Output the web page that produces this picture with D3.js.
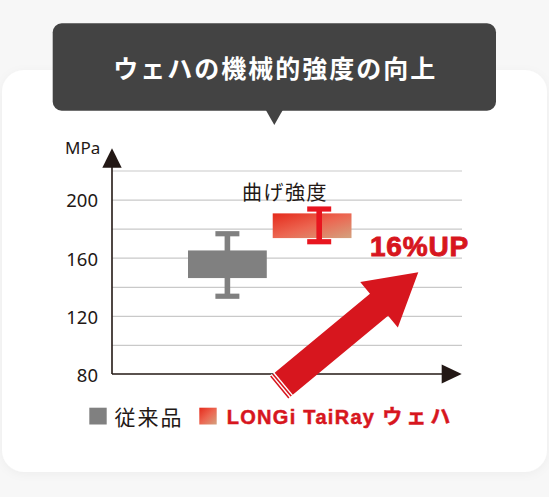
<!DOCTYPE html>
<html>
<head>
<meta charset="utf-8">
<script src="https://cdn.jsdelivr.net/npm/d3@7"></script>
<style>
  html, body { margin: 0; padding: 0; background: #f7f7f7; }
  svg { display: block; }
</style>
</head>
<body>
<div id="chart"></div>
<script>
// Data (MPa).
var categories = ['従来品', 'LONGi TaiRay ウェハ'];
var boxLow = [146, 173.5];
var boxHigh = [165, 190.5];
var whiskerLow = [133.5, 171];
var whiskerHigh = [176.5, 193.5];
var yTickLabels = [80, 120, 160, 200];
var gridValues = [100, 120, 140, 160, 180, 200, 220];
var title = 'ウェハの機械的強度の向上';
var seriesLabel = '曲げ強度';
var gainLabel = '16%UP';

var width = 549;
var height = 497;
var plot_left = 112;
var plot_right = 462;
var plot_bottom = 374;
var plot_top = 170.5;

var red = '#d7161e';
var gray = '#808080';
var ink = '#231815';

var svg = d3.select('#chart')
            .append('svg')
            .attr('width', width)
            .attr('height', height);

var defs = svg.append('defs');

var grad = defs.append('linearGradient')
               .attr('id', 'redGrad')
               .attr('x1', 0).attr('y1', 0)
               .attr('x2', 1).attr('y2', 1);
grad.append('stop').attr('offset', '0%').attr('stop-color', '#e52a1b');
grad.append('stop').attr('offset', '50%').attr('stop-color', '#ec6651');
grad.append('stop').attr('offset', '100%').attr('stop-color', '#d4a27f');

var shadow = defs.append('filter')
                 .attr('id', 'shadow')
                 .attr('x', '-10%').attr('y', '-10%')
                 .attr('width', '120%').attr('height', '120%');
shadow.append('feDropShadow')
      .attr('dx', 0).attr('dy', 2)
      .attr('stdDeviation', 5)
      .attr('flood-color', '#000')
      .attr('flood-opacity', 0.04);

// White card behind the chart.
svg.append('rect')
   .attr('x', 2).attr('y', 70)
   .attr('width', 545).attr('height', 402)
   .attr('rx', 22)
   .attr('fill', '#fff')
   .attr('filter', 'url(#shadow)');

// Title bubble.
svg.append('rect')
   .attr('x', 52.7).attr('y', 23.3)
   .attr('width', 443.3).attr('height', 87.4)
   .attr('rx', 9)
   .attr('fill', '#434343');
svg.append('path')
   .attr('d', 'M265.8,110 L282.8,110 L274.3,125 Z')
   .attr('fill', '#434343');
svg.append('text')
   .text(title)
   .attr('x', 274.3 + 1)
   .attr('y', 67)
   .attr('text-anchor', 'middle')
   .attr('dominant-baseline', 'central')
   .style('font-family', '"Noto Sans CJK JP", sans-serif')
   .style('font-weight', 'bold')
   .style('font-size', '25px')
   .style('letter-spacing', '2px')
   .style('fill', '#fff');

// Scales.
var y_scale = d3.scaleLinear()
                .domain([80, 220])
                .range([plot_bottom, plot_top]);

var x_scale = d3.scaleBand()
                .domain(d3.range(categories.length))
                .range([188, 351.5])
                .paddingInner(0.07)
                .paddingOuter(0);

// Grid lines.
svg.append('g')
   .attr('class', 'grid')
   .attr('transform', 'translate(' + plot_left + ', 0)')
   .call(d3.axisLeft(y_scale)
           .tickValues(gridValues)
           .tickSize(-(plot_right - plot_left))
           .tickFormat(''))
   .call(function(g){
     g.select('.domain').remove();
     g.selectAll('line').attr('stroke', '#c9c9c9').attr('stroke-width', 1.2);
   });

// Y tick labels.
svg.append('g')
   .attr('class', 'y-axis')
   .attr('transform', 'translate(' + plot_left + ', 0)')
   .call(d3.axisLeft(y_scale)
           .tickValues(yTickLabels)
           .tickSize(0)
           .tickPadding(14))
   .call(function(g){
     g.select('.domain').remove();
     g.selectAll('text')
      .attr('dy', '0.4em')
      .style('font-family', '"Noto Sans", sans-serif')
      .style('font-size', '18.5px')
      .style('fill', ink);
   });

// Axis lines with arrow heads.
svg.append('line')
   .attr('x1', plot_left).attr('x2', plot_left)
   .attr('y1', y_scale(80)).attr('y2', 160)
   .attr('stroke', ink).attr('stroke-width', 1.6);
svg.append('path')
   .attr('d', 'M' + plot_left + ',148.3 L' + (plot_left - 9.7) + ',167.7 L' + (plot_left + 9.7) + ',167.7 Z')
   .attr('fill', ink);
svg.append('line')
   .attr('x1', plot_left).attr('x2', 450)
   .attr('y1', y_scale(80)).attr('y2', y_scale(80))
   .attr('stroke', ink).attr('stroke-width', 1.6);
svg.append('path')
   .attr('d', 'M461.7,' + y_scale(80) + ' L441.7,' + (y_scale(80) - 9.5) + ' L441.7,' + (y_scale(80) + 9.5) + ' Z')
   .attr('fill', ink);

svg.append('text')
   .text('MPa')
   .attr('x', 65)
   .attr('y', 154)
   .style('font-family', '"Noto Sans", sans-serif')
   .style('font-size', '17px')
   .style('fill', ink);

// Boxes and whiskers.
var fills = [gray, 'url(#redGrad)'];
var whiskerColors = [gray, '#e8151f'];
var whiskerPos = [0.5, 0.59];

var series = svg.selectAll('g.series')
                .data(categories)
                .enter()
                .append('g')
                .attr('class', 'series');

series.each(function(d, i){
  var g = d3.select(this);
  var cx = x_scale(i) + x_scale.bandwidth() * whiskerPos[i];
  var box = g.append('rect')
             .attr('x', x_scale(i))
             .attr('y', y_scale(boxHigh[i]))
             .attr('width', x_scale.bandwidth())
             .attr('height', y_scale(boxLow[i]) - y_scale(boxHigh[i]))
             .attr('fill', fills[i]);
  var w = g.append('g').attr('stroke', whiskerColors[i]);
  w.append('line')
   .attr('x1', cx).attr('x2', cx)
   .attr('y1', y_scale(whiskerLow[i])).attr('y2', y_scale(whiskerHigh[i]))
   .attr('stroke-width', 5.6);
  [whiskerLow[i], whiskerHigh[i]].forEach(function(v){
    w.append('line')
     .attr('x1', cx - 12).attr('x2', cx + 12)
     .attr('y1', y_scale(v)).attr('y2', y_scale(v))
     .attr('stroke-width', 5.2);
  });
  if (i === 0) box.raise();
});

svg.append('text')
   .text(seriesLabel)
   .attr('x', 285)
   .attr('y', 191.8)
   .attr('text-anchor', 'middle')
   .attr('dominant-baseline', 'central')
   .style('font-family', '"Noto Sans CJK JP", sans-serif')
   .style('font-size', '20px')
   .style('letter-spacing', '1.5px')
   .style('fill', ink);

// Big red arrow, built along its own axis then rotated into place.
var tail = [279.2, 387.5];
var tip = [418.3, y_scale(150)];
var dx = tip[0] - tail[0];
var dy = tip[1] - tail[1];
var len = Math.sqrt(dx * dx + dy * dy);
var angle = Math.atan2(dy, dx) * 180 / Math.PI;
var shaft = 14.2;
var headLen = 51;
var headHalf = 29.5;

var arrow = svg.append('g')
               .attr('transform', 'translate(' + tail[0] + ',' + tail[1] + ') rotate(' + angle + ')');
arrow.append('path')
     .attr('d', d3.line()([
       [0, -shaft], [len - headLen, -shaft], [len - headLen, -headHalf],
       [len, 0],
       [len - headLen, headHalf], [len - headLen, shaft], [0, shaft]
     ]) + 'Z')
     .attr('fill', red);
[2.2, 5.2].forEach(function(u){
  arrow.append('line')
       .attr('x1', u).attr('x2', u)
       .attr('y1', -shaft - 1).attr('y2', shaft + 1)
       .attr('stroke', '#fff')
       .attr('stroke-width', 1.4);
});

svg.append('text')
   .text(gainLabel)
   .attr('x', 370)
   .attr('y', 255.7)
   .style('font-family', '"Liberation Sans", Arial, sans-serif')
   .style('font-weight', 'bold')
   .style('font-size', '28px')
   .style('letter-spacing', '0.8px')
   .style('fill', red)
   .style('stroke', red)
   .style('stroke-width', '0.9px');

// Legend.
var legend = svg.append('g');
legend.append('rect')
      .attr('x', 89.3).attr('y', 407.7)
      .attr('width', 17.4).attr('height', 16.8)
      .attr('fill', gray);
legend.append('text')
      .text(categories[0])
      .attr('x', 114.5)
      .attr('y', 416)
      .attr('dominant-baseline', 'central')
      .style('font-family', '"Noto Sans CJK JP", sans-serif')
      .style('font-size', '21px')
      .style('letter-spacing', '2px')
      .style('fill', ink);
legend.append('rect')
      .attr('x', 199.3).attr('y', 407.7)
      .attr('width', 17.4).attr('height', 16.8)
      .attr('fill', 'url(#redGrad)');
var lt = legend.append('text')
               .attr('x', 226.7)
               .attr('y', 424.3)
               .style('font-family', '"Liberation Sans", "Noto Sans CJK JP", sans-serif')
               .style('font-weight', 'bold')
               .style('font-size', '20px')
               .style('fill', red)
               .style('stroke', red)
               .style('stroke-width', '0.5px');
var parts = categories[1].split(' ');
lt.append('tspan')
  .text(parts[0] + ' ' + parts[1] + ' ')
  .style('letter-spacing', '1.3px');
lt.append('tspan')
  .text(parts[2])
  .style('font-family', '"Noto Sans CJK JP", sans-serif')
  .style('letter-spacing', '4px');
</script>
</body>
</html>
